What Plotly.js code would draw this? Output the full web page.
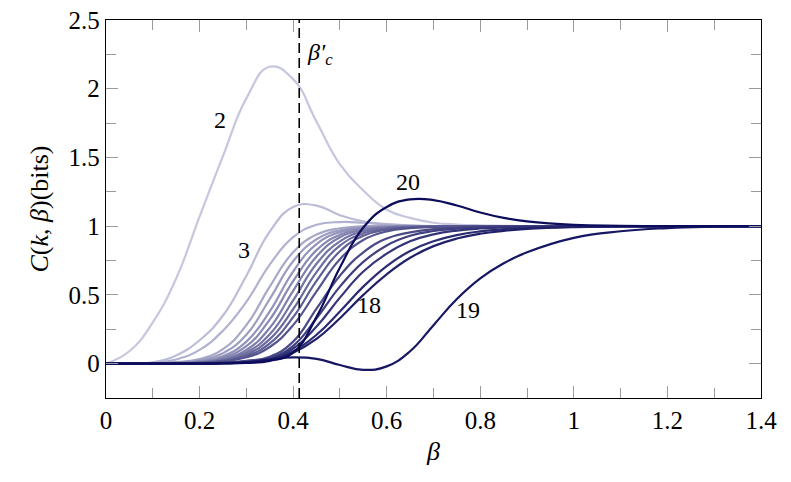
<!DOCTYPE html>
<html>
<head>
<meta charset="utf-8">
<script src="https://cdn.plot.ly/plotly-3.0.1.min.js"></script>
</head>
<body style="margin:0">
<div id="chart" style="width:791px;height:482px"></div>
<script>
// beta grid shared by all curves
var beta = [0, 0.05, 0.1, 0.15, 0.2, 0.25, 0.3, 0.35, 0.4, 0.45, 0.5, 0.55, 0.6, 0.65, 0.7, 0.75, 0.8, 0.85, 0.9, 1.0, 1.1, 1.2, 1.3, 1.4];

var betaCrit = 0.413;

// C(k, beta) in bits
var c2  = [0, 0.09, 0.30, 0.62, 1.07, 1.51, 1.93, 2.16, 2.07, 1.76, 1.45, 1.26, 1.12, 1.06, 1.025, 1.012, 1.006, 1.003, 1.0, 1, 1, 1, 1, 1];
var c3  = [0, 0, 0.01, 0.06, 0.17, 0.35, 0.64, 0.96, 1.14, 1.15, 1.08, 1.035, 1.012, 1.004, 1, 1, 1, 1, 1, 1, 1, 1, 1, 1];
var c4  = [0, 0, 0.005, 0.03, 0.10, 0.24, 0.45, 0.72, 0.92, 1.01, 1.03, 1.025, 1.015, 1.005, 1, 1, 1, 1, 1, 1, 1, 1, 1, 1];
var c5  = [0, 0, 0.003, 0.012, 0.034, 0.105, 0.28, 0.56, 0.81, 0.94, 0.985, 1.0, 1.004, 1.002, 1, 1, 1, 1, 1, 1, 1, 1, 1, 1];
var c6  = [0, 0, 0.002, 0.007, 0.024, 0.076, 0.21, 0.47, 0.745, 0.905, 0.97, 0.992, 1.0, 1.0, 1, 1, 1, 1, 1, 1, 1, 1, 1, 1];
var c7  = [0, 0, 0.001, 0.005, 0.017, 0.054, 0.16, 0.38, 0.67, 0.87, 0.957, 0.987, 0.997, 1.0, 1, 1, 1, 1, 1, 1, 1, 1, 1, 1];
var c8  = [0, 0, 0.001, 0.004, 0.014, 0.044, 0.127, 0.32, 0.60, 0.826, 0.938, 0.98, 0.994, 0.999, 1, 1, 1, 1, 1, 1, 1, 1, 1, 1];
var c9  = [0, 0, 0, 0.003, 0.010, 0.033, 0.099, 0.26, 0.53, 0.78, 0.92, 0.973, 0.99, 0.997, 1, 1, 1, 1, 1, 1, 1, 1, 1, 1];
var c10 = [0, 0, 0, 0.002, 0.008, 0.027, 0.081, 0.214, 0.46, 0.727, 0.89, 0.963, 0.988, 0.996, 1, 1, 1, 1, 1, 1, 1, 1, 1, 1];
var c11 = [0, 0, 0, 0.002, 0.006, 0.023, 0.067, 0.178, 0.396, 0.666, 0.858, 0.948, 0.982, 0.994, 0.998, 1, 1, 1, 1, 1, 1, 1, 1, 1];
var c12 = [0, 0, 0, 0.001, 0.005, 0.019, 0.055, 0.147, 0.338, 0.602, 0.818, 0.93, 0.975, 0.991, 0.997, 1, 1, 1, 1, 1, 1, 1, 1, 1];
var c13 = [0, 0, 0, 0.001, 0.004, 0.017, 0.046, 0.121, 0.28, 0.525, 0.76, 0.90, 0.962, 0.986, 0.995, 0.998, 1, 1, 1, 1, 1, 1, 1, 1];
var c14 = [0, 0, 0, 0, 0.002, 0.008, 0.020, 0.05, 0.16, 0.40, 0.64, 0.81, 0.91, 0.955, 0.978, 0.99, 0.996, 1, 1, 1, 1, 1, 1, 1];
var c15 = [0, 0, 0, 0, 0.002, 0.006, 0.015, 0.04, 0.13, 0.33, 0.56, 0.74, 0.86, 0.93, 0.965, 0.982, 0.991, 0.996, 1, 1, 1, 1, 1, 1];
var c16 = [0, 0, 0, 0, 0.001, 0.005, 0.012, 0.035, 0.11, 0.27, 0.48, 0.67, 0.80, 0.89, 0.94, 0.968, 0.983, 0.991, 0.996, 1, 1, 1, 1, 1];
var c17 = [0, 0, 0, 0, 0.001, 0.004, 0.010, 0.03, 0.09, 0.21, 0.38, 0.56, 0.71, 0.82, 0.89, 0.935, 0.962, 0.978, 0.988, 0.997, 1, 1, 1, 1];
var c18 = [0, 0, 0, 0, 0.001, 0.003, 0.008, 0.025, 0.08, 0.18, 0.33, 0.50, 0.65, 0.77, 0.855, 0.91, 0.945, 0.966, 0.98, 0.993, 0.998, 1, 1, 1];
var c19 = [0, 0, 0, 0, 0.001, 0.003, 0.010, 0.03, 0.045, 0.035, -0.01, -0.045, -0.02, 0.09, 0.28, 0.47, 0.62, 0.73, 0.81, 0.915, 0.963, 0.986, 0.996, 1];
var c20 = [0, 0, 0, 0, 0, 0.001, 0.005, 0.02, 0.08, 0.34, 0.70, 0.99, 1.14, 1.195, 1.19, 1.15, 1.10, 1.06, 1.035, 1.01, 1.003, 1, 1, 1];

var kValues = [2, 3, 4, 5, 6, 7, 8, 9, 10, 11, 12, 13, 14, 15, 16, 17, 18, 19, 20];
var curves = [c2, c3, c4, c5, c6, c7, c8, c9, c10, c11, c12, c13, c14, c15, c16, c17, c18, c19, c20];

// light lavender for k=2 down to navy for k=20
var light = [198, 199, 222];
var dark = [12, 12, 92];

function shade(k) {
    var t = (k - 2) / 18;
    var c = light.map(function (v, i) { return Math.round(v + (dark[i] - v) * t); });
    return 'rgb(' + c.join(',') + ')';
}

var data = kValues.map(function (k, i) {
    return {
        x: beta,
        y: curves[i],
        mode: 'lines',
        type: 'scatter',
        name: 'k = ' + k,
        line: { color: shade(k), width: 2.2, shape: 'spline', smoothing: 1.3 }
    };
});

// critical beta marker
data.push({
    x: [betaCrit, betaCrit],
    y: [-0.25, 2.5],
    mode: 'lines',
    type: 'scatter',
    name: 'beta_c',
    line: { color: '#000', width: 1.6, dash: '10px,5px' }
});

var fam = 'Liberation Serif';
var labelFont = { family: fam, size: 24, color: '#000' };

var layout = {
    width: 791,
    height: 482,
    margin: { l: 106, r: 30, t: 20, b: 84 },
    showlegend: false,
    font: { family: fam, size: 24, color: '#000' },
    xaxis: {
        range: [0, 1.4],
        dtick: 0.2,
        ticks: 'inside',
        ticklen: 12,
        tickcolor: '#9a9a9a',
        minor: { dtick: 0.1, ticks: 'inside', ticklen: 10, tickcolor: '#9a9a9a' },
        showgrid: false,
        zeroline: false,
        showline: true,
        linecolor: '#000',
        linewidth: 1.3,
        mirror: 'ticks',
        tickfont: { family: fam, size: 25, color: '#000' },
        title: { text: '<i>β</i>', font: { family: fam, size: 26, color: '#000' }, standoff: 8 }
    },
    yaxis: {
        range: [-0.25, 2.5],
        dtick: 0.5,
        ticks: 'inside',
        ticklen: 12,
        tickcolor: '#9a9a9a',
        minor: { dtick: 0.25, ticks: 'inside', ticklen: 10, tickcolor: '#9a9a9a' },
        showgrid: false,
        zeroline: false,
        showline: true,
        linecolor: '#000',
        linewidth: 1.3,
        mirror: 'ticks',
        tickfont: { family: fam, size: 25, color: '#000' },
        title: { text: '<i>C</i>(<i>k</i>, <i>β</i>)(bits)', font: { family: fam, size: 26, color: '#000' }, standoff: 12 }
    },
    annotations: [
        { x: betaCrit, y: 2.25, xanchor: 'left', xshift: 6, text: '<i>β′<sub>c</sub></i>', showarrow: false, font: labelFont },
        { x: 0.244, y: 1.77, text: '2', showarrow: false, font: labelFont },
        { x: 0.295, y: 0.83, text: '3', showarrow: false, font: labelFont },
        { x: 0.645, y: 1.32, text: '20', showarrow: false, font: labelFont },
        { x: 0.562, y: 0.43, text: '18', showarrow: false, font: labelFont },
        { x: 0.774, y: 0.39, text: '19', showarrow: false, font: labelFont }
    ]
};

Plotly.newPlot('chart', data, layout, { displayModeBar: false }).then(function () {
    document.querySelectorAll('#chart text').forEach(function (t) {
        t.style.fontFamily = '"Liberation Serif", "DejaVu Serif", serif';
    });
});
</script>
</body>
</html>
